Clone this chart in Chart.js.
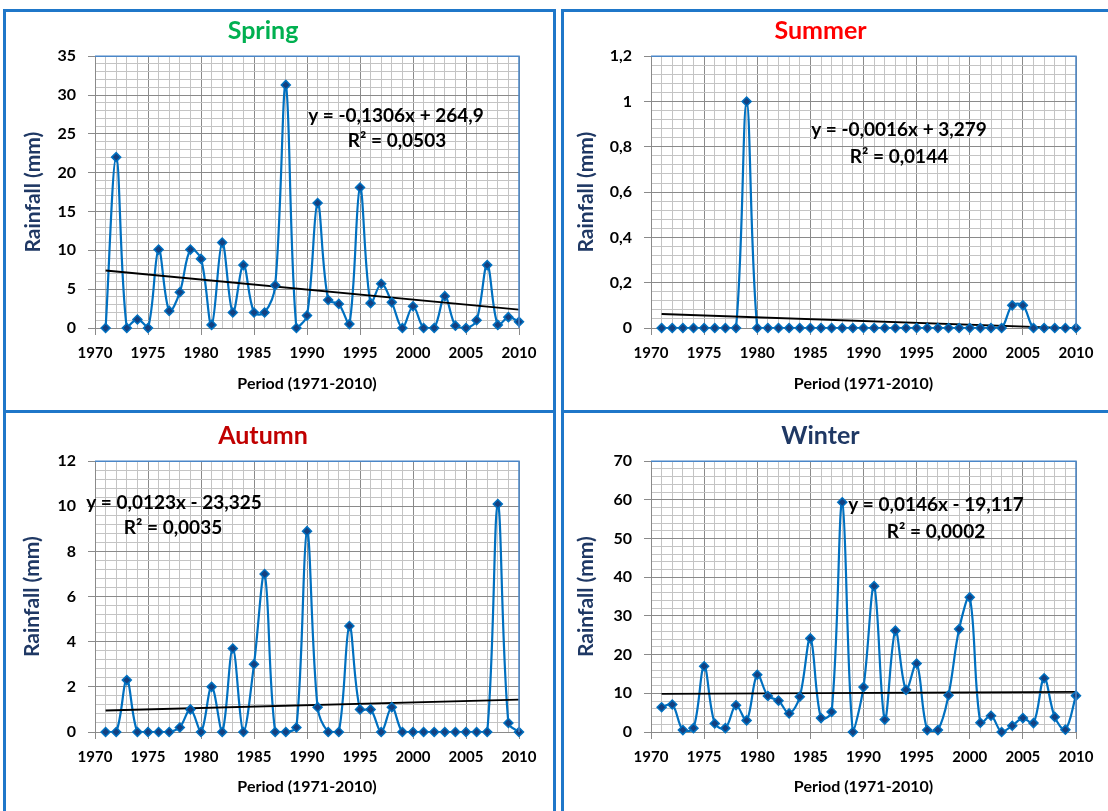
<!DOCTYPE html>
<html><head><meta charset="utf-8">
<script src="https://cdn.jsdelivr.net/npm/chart.js@4.4.1/dist/chart.umd.min.js"></script>
<style>
html,body{margin:0;padding:0;background:#fff;width:1108px;height:811px;overflow:hidden;position:relative}
.panel{position:absolute;box-sizing:border-box;border:3px solid #1f77c9;background:#fff}
canvas{position:absolute}
</style></head><body>
<div class="panel" style="left:3px;top:9px;width:553px;height:405px"></div>
<div class="panel" style="left:561px;top:9px;width:553px;height:405px"></div>
<div class="panel" style="left:3px;top:410px;width:553px;height:405px"></div>
<div class="panel" style="left:561px;top:410px;width:553px;height:405px"></div>
<canvas id="c0" width="545" height="398" style="left:7px;top:12px;width:545px;height:398px"></canvas>
<canvas id="c1" width="545" height="398" style="left:565px;top:12px;width:545px;height:398px"></canvas>
<canvas id="c2" width="545" height="396" style="left:7px;top:414px;width:545px;height:396px"></canvas>
<canvas id="c3" width="545" height="396" style="left:565px;top:414px;width:545px;height:396px"></canvas>
<script>
// ---- data ----
const years = [1971,1972,1973,1974,1975,1976,1977,1978,1979,1980,
               1981,1982,1983,1984,1985,1986,1987,1988,1989,1990,
               1991,1992,1993,1994,1995,1996,1997,1998,1999,2000,
               2001,2002,2003,2004,2005,2006,2007,2008,2009,2010];
const spring = [0,22.0,0,1.1,0,10.1,2.2,4.6,10.1,8.9,
                0.4,11.0,2.0,8.1,2.0,2.0,5.5,31.3,0,1.6,
                16.1,3.6,3.1,0.5,18.1,3.2,5.7,3.3,0,2.8,
                0,0,4.1,0.3,0,1.0,8.1,0.4,1.4,0.8];
const summer = [0,0,0,0,0,0,0,0,1.0,0,
                0,0,0,0,0,0,0,0,0,0,
                0,0,0,0,0,0,0,0,0,0,
                0,0,0,0.1,0.1,0,0,0,0,0];
const autumn = [0,0,2.3,0,0,0,0,0.2,1.0,0,
                2.0,0,3.7,0,3.0,7.0,0,0,0.2,8.9,
                1.1,0,0,4.7,1.0,1.0,0,1.1,0,0,
                0,0,0,0,0,0,0,10.1,0.4,0];
const winter = [6.4,7.1,0.5,1.0,17.0,2.2,1.0,6.9,3.0,14.8,
                9.3,8.1,4.8,9.1,24.2,3.6,5.2,59.4,0,11.6,
                37.7,3.2,26.2,10.9,17.7,0.5,0.5,9.5,26.6,34.8,
                2.4,4.2,0,1.6,3.6,2.3,13.9,3.9,0.6,9.4];
const titles = ["Spring","Summer","Autumn","Winter"];
const titleColors = ["#00b050","#ff0000","#c00000","#1f3864"];
const yMax = [35, 1.2, 12, 70];
const yMajor = [5, 0.2, 2, 10];
const equations = ["y = -0,1306x + 264,9","y = -0,0016x + 3,279","y = 0,0123x - 23,325","y = 0,0146x - 19,117"];
const rSquared = ["R² = 0,0503","R² = 0,0144","R² = 0,0035","R² = 0,0002"];
const xTitle = "Period (1971-2010)";
const yTitle = "Rainfall (mm)";

// ---- helpers ----
const FONT = "Lato";
function fmt(v){ return String(Math.round(v*100)/100).replace('.', ','); }
function trend(xs, ys){
  const n = xs.length;
  const mx = xs.reduce((a,b)=>a+b,0)/n, my = ys.reduce((a,b)=>a+b,0)/n;
  let sxy=0, sxx=0;
  for(let i=0;i<n;i++){ sxy+=(xs[i]-mx)*(ys[i]-my); sxx+=(xs[i]-mx)*(xs[i]-mx); }
  const m = sxy/sxx, b = my - m*mx;
  return [{x:xs[0], y:b+m*xs[0]}, {x:xs[n-1], y:b+m*xs[n-1]}];
}

// layout per panel (canvas-relative)
const L = [
  {left:88, top:44, right:33, xh:82, tPadTop:4, tPadBot:10.2, yTitlePad:14, xTitlePad:17},
  {left:86, top:44, right:34, xh:82, tPadTop:4, tPadBot:10.2, yTitlePad:9, xTitlePad:17},
  {left:88, top:47, right:33, xh:78, tPadTop:7, tPadBot:10.2, yTitlePad:13, xTitlePad:14},
  {left:86, top:47, right:34, xh:78, tPadTop:7, tPadBot:10.2, yTitlePad:9, xTitlePad:14}
];
const eqPos = [
  {ex:301, ey:60, rx:302, ry:85},
  {ex:248, ey:74, rx:248, ry:101},
  {ex:79, ey:42, rx:78, ry:67},
  {ex:285, ey:44, rx:285, ry:71}
];

const series = [spring, summer, autumn, winter];
const MAJOR = '#8a8a8a', MINOR = '#c4c4c4';

series.forEach((vals, k) => {
  const lay = L[k], ep = eqPos[k];
  const pts = years.map((y,i)=>({x:y, y:vals[i]}));
  const overlay = {
    id: 'overlay'+k,
    afterDraw(chart){
      const a = chart.chartArea, ctx = chart.ctx;
      ctx.save();
      ctx.strokeStyle = '#4a86c8'; ctx.lineWidth = 1.5;
      ctx.beginPath(); ctx.moveTo(a.left, a.top); ctx.lineTo(a.right, a.top); ctx.lineTo(a.right, a.bottom); ctx.stroke();
      ctx.fillStyle = '#000'; ctx.font = 'bold 19px ' + FONT;
      ctx.textAlign = 'center'; ctx.textBaseline = 'middle';
      ctx.fillText(equations[k], a.left + ep.ex, a.top + ep.ey);
      ctx.fillText(rSquared[k], a.left + ep.rx, a.top + ep.ry);
      ctx.restore();
    }
  };
  new Chart(document.getElementById('c'+k), {
    type: 'line',
    data: {
      datasets: [
        {
          data: pts, showLine: false, clip: false,
          pointStyle: 'rectRot', pointRadius: 4.5,
          pointBackgroundColor: '#14407f', pointBorderColor: '#0070c0', pointBorderWidth: 1.5,
          order: 0
        },
        {
          data: trend(years, vals),
          borderColor: '#000', borderWidth: 1.8, pointRadius: 0, tension: 0, order: 1
        },
        {
          data: pts,
          borderColor: '#0070c0', borderWidth: 2.2, tension: 0.35, pointRadius: 0,
          order: 2
        }
      ]
    },
    options: {
      responsive: false, animation: false, devicePixelRatio: 1,
      layout: { padding: { left: 0, top: 0, right: lay.right, bottom: 0 } },
      plugins: {
        legend: { display: false }, tooltip: { enabled: false },
        title: { display: true, text: titles[k], color: titleColors[k],
                 font: { family: FONT, size: 25, weight: 'bold' },
                 padding: { top: lay.tPadTop, bottom: lay.tPadBot } }
      },
      scales: {
        x: {
          type: 'linear', min: 1970, max: 2010,
          afterFit: s => { s.height = lay.xh; },
          ticks: { stepSize: 1, autoSkip: false, maxRotation: 0, minRotation: 0, padding: 9, color: '#000',
                   font: { family: FONT, size: 15, weight: 'bold' },
                   callback: v => (v % 5 === 0 ? String(v) : '') },
          grid: { color: c => (c.tick && c.tick.value % 5 === 0 ? MAJOR : MINOR), lineWidth: 1,
                  tickLength: 7, tickColor: c => (c.tick && c.tick.value % 5 === 0 ? MAJOR : 'rgba(0,0,0,0)') },
          border: { display: true, color: MAJOR, width: 1 },
          title: { display: true, text: xTitle, color: '#000', font: { family: FONT, size: 16, weight: 'bold' },
                   padding: { top: 0, bottom: lay.xTitlePad } }
        },
        y: {
          min: 0, max: yMax[k],
          afterFit: s => { s.width = lay.left; },
          ticks: { stepSize: yMajor[k]/5, autoSkip: false, padding: 12, color: '#000',
                   font: { family: FONT, size: 16, weight: 'bold' },
                   callback: (v, i) => (i % 5 === 0 ? fmt(v) : '') },
          grid: { color: c => (c.index % 5 === 0 ? MAJOR : MINOR), lineWidth: 1,
                  tickLength: 7, tickColor: c => (c.index % 5 === 0 ? MAJOR : 'rgba(0,0,0,0)') },
          border: { display: true, color: MAJOR, width: 1 },
          title: { display: true, text: yTitle, color: '#1f3864', font: { family: FONT, size: 21, weight: 'bold' },
                   padding: { top: lay.yTitlePad, bottom: 0 } }
        }
      }
    },
    plugins: [overlay]
  });
});
</script>
</body></html>
